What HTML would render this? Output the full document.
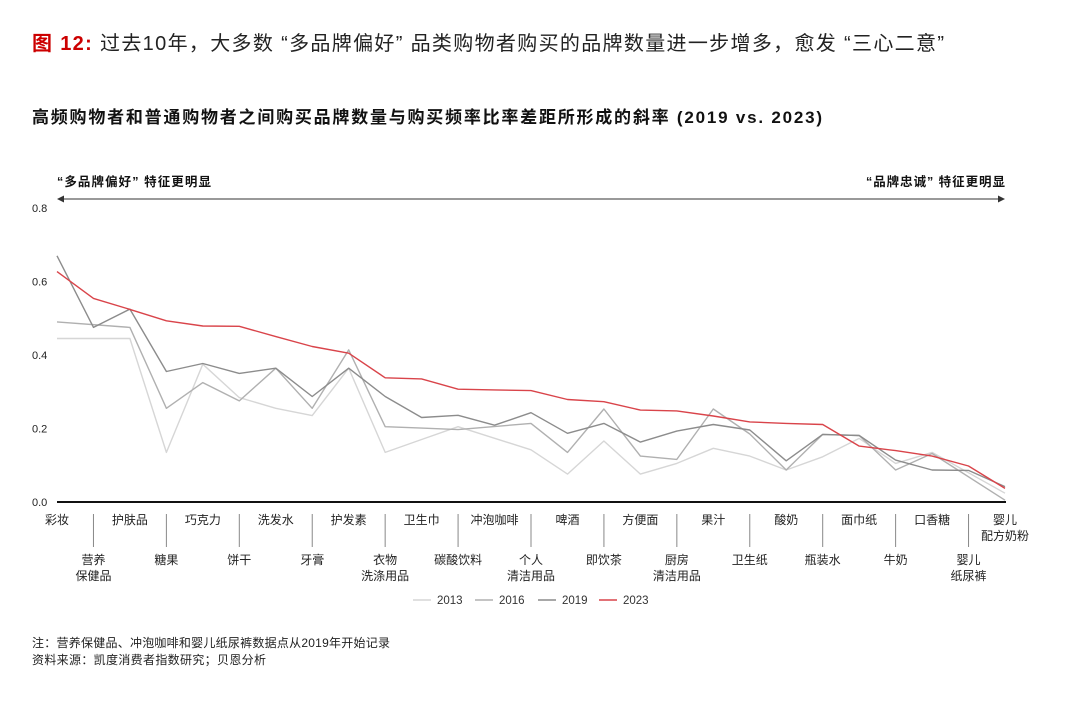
<!DOCTYPE html>
<html><head><meta charset="utf-8"><style>
body{margin:0;width:1070px;height:705px;background:#fff;overflow:hidden;font-family:"Liberation Sans","Noto Sans CJK SC",sans-serif;}
svg{display:block}
</style></head><body>
<svg id="chart" width="1070" height="705" viewBox="0 0 1070 705" font-family="Liberation Sans, Noto Sans CJK SC, sans-serif">
<text x="32" y="50" font-size="20" fill="#222" textLength="912" lengthAdjust="spacing"><tspan fill="#cc0000" font-weight="bold">图 12:</tspan> 过去10年，大多数 “多品牌偏好” 品类购物者购买的品牌数量进一步增多，愈发 “三心二意”</text>
<text x="32" y="123" font-size="17" font-weight="bold" fill="#111" textLength="790" lengthAdjust="spacing">高频购物者和普通购物者之间购买品牌数量与购买频率比率差距所形成的斜率 (2019 vs. 2023)</text>
<text x="57" y="186" font-size="12.5" font-weight="bold" fill="#111" textLength="154" lengthAdjust="spacing">“多品牌偏好” 特征更明显</text>
<text x="866" y="186" font-size="12.5" font-weight="bold" fill="#111" textLength="139" lengthAdjust="spacing">“品牌忠诚” 特征更明显</text>
<g>
<line x1="62" y1="199" x2="1000" y2="199" stroke="#333" stroke-width="1"/>
<path d="M57,199 L64,195.5 L64,202.5 Z" fill="#333"/>
<path d="M1005,199 L998,195.5 L998,202.5 Z" fill="#333"/>
</g>
<g id="yaxis"></g>
<g id="lines"></g>
<line x1="57" y1="502" x2="1006" y2="502" stroke="#111" stroke-width="2"/>
<g id="xaxis"></g>
<g id="legend"></g>
<text x="32" y="647" font-size="12" fill="#222" textLength="358" lengthAdjust="spacing">注：营养保健品、冲泡咖啡和婴儿纸尿裤数据点从2019年开始记录</text>
<text x="32" y="664" font-size="12" fill="#222" textLength="234" lengthAdjust="spacing">资料来源：凯度消费者指数研究；贝恩分析</text>
</svg>
<script>
const categories=["彩妆","营养\n保健品","护肤品","糖果","巧克力","饼干","洗发水","牙膏","护发素","衣物\n洗涤用品","卫生巾","碳酸饮料","冲泡咖啡","个人\n清洁用品","啤酒","即饮茶","方便面","厨房\n清洁用品","果汁","卫生纸","酸奶","瓶装水","面巾纸","牛奶","口香糖","婴儿\n纸尿裤","婴儿\n配方奶粉"];
const s2013=[0.445,null,0.445,0.135,0.375,0.284,0.255,0.235,0.364,0.135,0.170,0.205,null,0.142,0.076,0.166,0.076,0.105,0.146,0.125,0.087,0.123,0.173,0.105,0.135,null,0.024];
const s2016=[0.490,null,0.475,0.255,0.325,0.275,0.364,0.255,0.414,0.205,0.201,0.197,null,0.214,0.135,0.253,0.125,0.116,0.253,0.185,0.087,0.184,0.181,0.087,0.132,null,0.005];
const s2019=[0.670,0.475,0.525,0.355,0.377,0.350,0.364,0.287,0.364,0.287,0.230,0.236,0.209,0.243,0.187,0.214,0.163,0.193,0.211,0.196,0.112,0.184,0.181,0.114,0.087,0.086,0.042];
const s2023=[0.627,0.554,0.524,0.493,0.479,0.478,0.450,0.423,0.405,0.338,0.335,0.307,0.305,0.303,0.279,0.273,0.250,0.248,0.234,0.218,0.214,0.211,0.152,0.140,0.125,0.098,0.037];
const yTicks=["0.0","0.2","0.4","0.6","0.8"];
const seriesNames=["2013","2016","2019","2023"];
const seriesColors=["#d6d6d6","#b0b0b0","#8c8c8c","#d9444a"];
const NS="http://www.w3.org/2000/svg";
const x=i=>57+i*(948/(categories.length-1));
const y=v=>502-v*367.5;
function mk(tag,attrs,parent){const e=document.createElementNS(NS,tag);for(const k in attrs)e.setAttribute(k,attrs[k]);parent.appendChild(e);return e;}
const ya=document.getElementById('yaxis');
yTicks.forEach(t=>{const e=mk('text',{x:32,y:y(parseFloat(t))+4,'font-size':11,fill:'#222'},ya);e.textContent=t;

});
const xa=document.getElementById('xaxis');
categories.forEach((c,i)=>{
  const odd=i%2===1;
  if(odd){const l=mk('line',{x1:x(i),y1:514,x2:x(i),y2:547,stroke:'#888','stroke-width':1},xa);
  
  }
  const parts=c.split("\n");
  parts.forEach((p,j)=>{const e=mk('text',{x:x(i),y:(odd?564:524)+j*16,'font-size':12,fill:'#222','text-anchor':'middle'},xa);e.textContent=p;
  
  });
});
const lg=document.getElementById('lines');
[s2013,s2016,s2019,s2023].forEach((s,k)=>{
  let d="";s.forEach((v,i)=>{if(v===null)return;d+=(d?"L":"M")+x(i).toFixed(1)+","+y(v).toFixed(1);});
  const p=mk('path',{d:d,fill:'none',stroke:seriesColors[k],'stroke-width':1.4,'stroke-linejoin':'round'},lg);
  
  
});
const leg=document.getElementById('legend');
const lx=[413,475,538,599];
seriesNames.forEach((n,k)=>{
  const g=mk('g',{},leg);
  
  
  mk('line',{x1:lx[k],y1:600,x2:lx[k]+18,y2:600,stroke:seriesColors[k],'stroke-width':1.5},g);
  const t=mk('text',{x:lx[k]+24,y:604,'font-size':11.5,fill:'#333'},g);t.textContent=n;
});
</script>
</body></html>
